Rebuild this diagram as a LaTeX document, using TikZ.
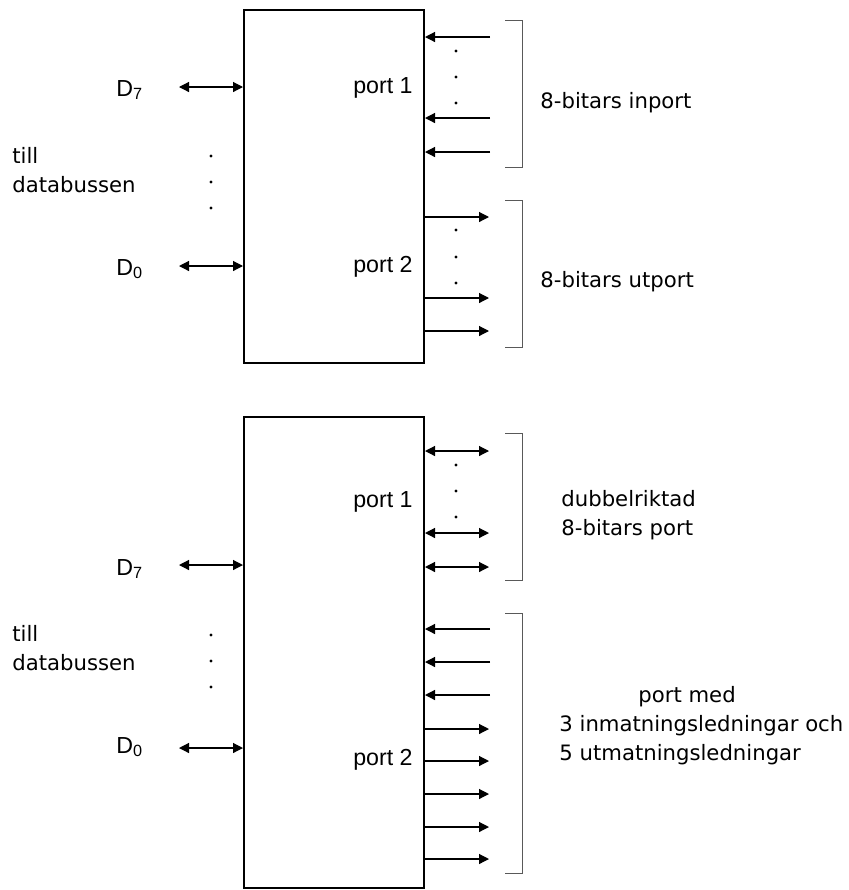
\documentclass[tikz,border=0pt]{standalone}
\usepackage{fontspec}
\setmainfont{Liberation Sans}
\newfontfamily\verdfont{DejaVu Sans}
\usetikzlibrary{arrows.meta,positioning,calc}

\begin{document}
\begin{tikzpicture}[x=0.5pt,y=-0.5pt,
    every node/.style={font=\fontsize{11.6}{14.5}\selectfont,inner sep=0pt},
    chip/.style={draw,line width=1pt,minimum width=90pt},
    lbl/.style={font=\verdfont\fontsize{10.6}{14.5}\selectfont,align=left},
    arr/.style={line width=0.6pt,-{Triangle[length=5pt,width=5pt]}},
    darr/.style={line width=0.6pt,{Triangle[length=5pt,width=5pt]}-{Triangle[length=5pt,width=5pt]}},
    brack/.style={draw=black!65,line width=0.5pt}]
    \useasboundingbox (0,0) rectangle (848,890);

    % ---------- upper circuit ----------
    \node[chip,minimum height=176.5pt] (chipA) at (334,186.5) {};
    \node[anchor=east] (pA1) at (413,88) {port 1};
    \node[anchor=east] (pA2) at (413,267) {port 2};

    % data bus side
    \node[anchor=west] (dA7) at (116,90) {D\textsubscript{7}};
    \node[anchor=west] (dA0) at (116,269) {D\textsubscript{0}};
    \coordinate (cA7) at (179,87);
    \coordinate (cA0) at (179,266);
    \draw[darr] (cA7) -- (cA7 -| chipA.west);
    \draw[darr] (cA0) -- (cA0 -| chipA.west);
    \foreach \y in {156,182,208} \fill (211,\y) circle (0.8pt);
    \node[lbl,anchor=west] (busA) at (12,170) {till\\databussen};

    % port 1: inputs
    \foreach \y/\n in {37/1,118/2,152/3} {
        \coordinate (inA\n) at (490,\y);
        \draw[arr] (inA\n) -- (inA\n -| chipA.east);
    }
    \foreach \y in {51,77,103} \fill (456,\y) circle (0.8pt);
    \draw[brack] (505,20) -- (522,20) -- (522,167) -- (505,167);
    \node[lbl,anchor=west] (txtA1) at (540,103) {8-bitars inport};

    % port 2: outputs
    \foreach \y/\n in {217/1,298/2,331/3} {
        \coordinate (utA\n) at (489,\y);
        \draw[arr] (utA\n -| chipA.east) -- (utA\n);
    }
    \foreach \y in {230,257,283} \fill (456,\y) circle (0.8pt);
    \draw[brack] (505,200) -- (522,200) -- (522,347) -- (505,347);
    \node[lbl,anchor=west] (txtA2) at (540,282) {8-bitars utport};

    % ---------- lower circuit ----------
    \node[chip,minimum height=235.5pt] (chipB) at (334,652.5) {};
    \node[anchor=east] (pB1) at (413,502) {port 1};
    \node[anchor=east] (pB2) at (413,760) {port 2};

    % data bus side
    \node[anchor=west] (dB7) at (116,569) {D\textsubscript{7}};
    \node[anchor=west] (dB0) at (116,747) {D\textsubscript{0}};
    \coordinate (cB7) at (179,565);
    \coordinate (cB0) at (179,748);
    \draw[darr] (cB7) -- (cB7 -| chipB.west);
    \draw[darr] (cB0) -- (cB0 -| chipB.west);
    \foreach \y in {635,661,687} \fill (211,\y) circle (0.8pt);
    \node[lbl,anchor=west] (busB) at (12,648) {till\\databussen};

    % port 1: bidirectional
    \foreach \y/\n in {451/1,533/2,567/3} {
        \coordinate (bdB\n) at (489,\y);
        \draw[darr] (bdB\n -| chipB.east) -- (bdB\n);
    }
    \foreach \y in {465,491,517} \fill (456,\y) circle (0.8pt);
    \draw[brack] (505,433) -- (522,433) -- (522,580) -- (505,580);
    \node[lbl,anchor=west] (txtB1) at (561,515) {dubbelriktad\\8-bitars port};

    % port 2: 3 in, 5 out
    \foreach \y/\n in {629/1,662/2,695/3} {
        \coordinate (inB\n) at (490,\y);
        \draw[arr] (inB\n) -- (inB\n -| chipB.east);
    }
    \foreach \y/\n in {729/1,761/2,794/3,827/4,859/5} {
        \coordinate (utB\n) at (489,\y);
        \draw[arr] (utB\n -| chipB.east) -- (utB\n);
    }
    \draw[brack] (505,613) -- (522,613) -- (522,873) -- (505,873);
    \node[lbl,anchor=west] (txtB2) at (559,726)
        {\hspace*{39.5pt}port med\\3 inmatningsledningar och\\5 utmatningsledningar};
\end{tikzpicture}
\end{document}
